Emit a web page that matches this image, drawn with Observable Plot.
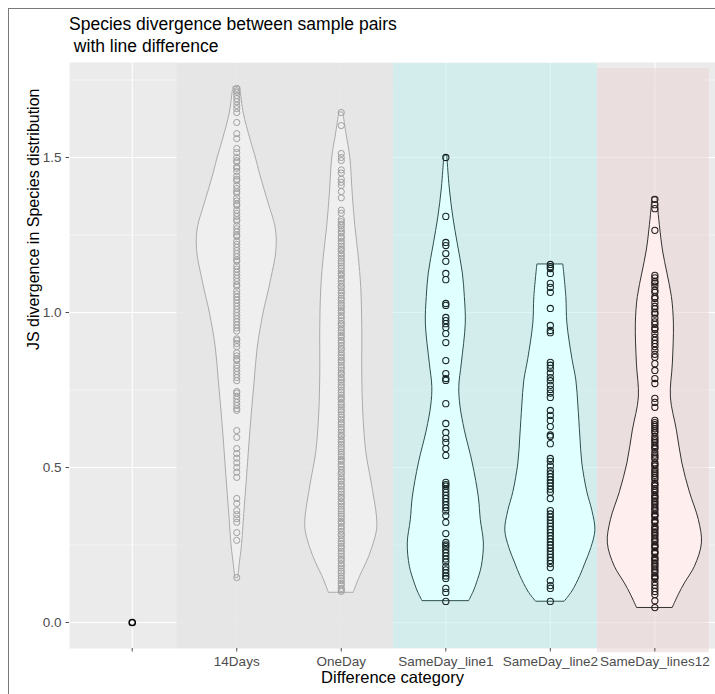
<!DOCTYPE html>
<html><head><meta charset="utf-8">
<script src="https://cdn.jsdelivr.net/npm/d3@7"></script>
<script src="https://cdn.jsdelivr.net/npm/@observablehq/plot@0.6"></script>
<style>
body{margin:0;background:#fff;font-family:"Liberation Sans",Arial,sans-serif;}
#wrap{position:relative;width:715px;height:694px;overflow:hidden;}
#border{position:absolute;left:8px;top:8px;width:720px;height:700px;border-left:1.5px solid #7a7a7a;border-top:1.5px solid #7a7a7a;}
#title{position:absolute;left:69px;top:13px;font-size:17.5px;line-height:22px;color:#000;white-space:pre;}
#chart{position:absolute;left:0;top:0;}
</style></head><body>
<div id="wrap"><div id="chart"></div><div id="border"></div><div id="title"></div></div>
<script>
// ---------- data ----------
const titleLines = ["Species divergence between sample pairs", " with line difference"];
const xTitle = "Difference category";
const yTitle = "JS divergence in Species distribution";
const categories = ["", "14Days", "OneDay", "SameDay_line1", "SameDay_line2", "SameDay_lines12"];
const majorY = [0, 0.5, 1.0, 1.5];
const minorY = [0.25, 0.75, 1.25, 1.75];

// shaded regions (x in category units, y in data units)
const regionX1 = [1.43, 3.5, 5.45];
const regionX2 = [3.5, 5.45, 6.52];
const regionY1 = [-0.084, -0.084, -0.097];
const regionY2 = [1.803, 1.803, 1.787];

// points per category
const ptsBlank = [0];
const pts14Days = [1.723,1.715,1.71,1.70,1.69,1.68,1.668,1.658,1.645,1.613,1.577,1.561,1.529,1.516,
 1.50,1.49,1.485,1.47,1.465,1.455,1.44,1.43,1.425,1.41,1.40,1.39,1.385,1.37,1.36,1.35,1.345,1.33,1.32,1.31,1.30,1.295,
 1.28,1.27,1.26,1.25,1.245,1.23,1.22,1.21,1.20,1.19,1.18,1.17,1.165,1.15,1.14,1.13,1.12,1.11,1.10,1.09,1.085,1.07,
 1.06,1.05,1.04,1.03,1.02,1.01,1.00,0.99,0.98,0.97,0.96,0.95,0.94,0.915,0.91,0.90,0.89,0.87,0.86,0.85,0.845,0.83,
 0.82,0.81,0.80,0.79,0.78,0.745,0.74,0.73,0.72,0.71,0.70,0.69,0.684,
 0.619,0.597,0.561,0.545,0.53,0.515,0.50,0.485,0.468,0.40,0.384,0.361,0.348,0.335,0.323,0.29,0.265,0.145];
const ptsOneDay = [1.645,1.603,1.513,1.50,1.49,1.46,1.45,1.43,1.42,1.41,1.39,1.37,1.33,1.32,
 1.30,1.293,1.285,1.28,1.27,1.262,1.256,1.245,1.24,1.23,1.222,1.214,1.205,1.2,1.19,1.183,1.175,1.166,1.16,1.15,1.142,
 1.134,1.125,1.12,1.11,1.103,1.094,1.085,1.08,1.07,1.063,1.055,1.046,1.04,1.03,1.022,1.015,1.006,1.0,0.99,0.983,0.974,
 0.965,0.96,0.95,0.942,0.935,0.926,0.92,0.91,0.903,0.894,0.885,0.88,0.87,0.862,0.855,0.846,0.84,0.83,0.822,0.814,0.805,
 0.8,0.79,0.783,0.775,0.766,0.76,0.75,0.742,0.734,0.725,0.72,0.71,0.703,0.695,0.686,0.68,0.67,0.662,0.655,0.646,0.64,
 0.63,0.622,0.614,0.605,0.6,0.59,0.583,0.575,0.566,0.56,0.55,0.542,0.535,0.526,0.52,0.51,0.503,0.494,0.485,0.48,0.47,
 0.462,0.455,0.446,0.44,0.43,0.422,0.414,0.405,0.4,0.39,0.383,0.375,0.366,0.36,0.35,0.342,0.335,0.326,0.32,0.31,0.303,
 0.294,0.285,0.28,0.27,0.262,0.255,0.246,0.24,0.23,0.222,0.214,0.205,0.2,0.19,0.183,0.175,0.166,0.16,0.15,0.142,0.135,
 0.126,0.12,0.11,0.105,0.1];
const ptsLine1 = [1.50,1.31,1.226,1.216,1.19,1.165,1.126,1.106,1.029,1.023,0.984,0.974,0.964,0.952,0.932,0.903,0.845,
 0.803,0.787,0.781,0.706,0.642,0.613,0.594,0.581,0.561,0.539,0.452,0.445,0.44,0.43,0.42,0.41,0.40,0.39,0.38,0.37,0.36,
 0.345,0.323,0.287,0.258,0.25,0.245,0.235,0.225,0.215,0.205,0.195,0.18,0.17,0.16,0.15,0.142,0.11,0.097,0.068];
const ptsLine2 = [1.155,1.148,1.142,1.126,1.094,1.081,1.065,1.013,0.958,0.942,0.935,0.839,0.83,0.82,0.805,0.79,0.78,
 0.765,0.752,0.74,0.726,0.684,0.668,0.652,0.632,0.605,0.60,0.577,0.529,0.52,0.505,0.49,0.48,0.47,0.46,0.45,0.44,0.43,
 0.42,0.40,0.361,0.35,0.34,0.33,0.32,0.31,0.30,0.29,0.28,0.27,0.26,0.25,0.24,0.23,0.22,0.21,0.20,0.19,0.177,0.135,
 0.119,0.11,0.068];
const ptsLines12 = [1.365,1.348,1.335,1.265,1.12,1.112,1.10,1.095,1.085,1.072,1.065,1.05,1.045,1.032,1.02,1.012,1.0,
 0.995,0.982,0.97,0.962,0.95,0.945,0.932,0.92,0.91,0.9,0.89,0.878,0.865,0.856,0.835,0.813,0.787,0.771,0.723,0.71,0.694,
 0.652,0.645,0.638,0.632,0.625,0.618,0.612,0.6,0.592,0.586,0.58,0.571,0.565,0.56,0.548,0.54,0.534,0.528,0.515,0.51,0.505,
 0.495,0.488,0.482,0.475,0.468,0.462,0.45,0.445,0.44,0.432,0.426,0.42,0.41,0.405,0.4,0.392,0.386,0.38,0.372,0.366,0.36,
 0.35,0.346,0.342,0.33,0.326,0.322,0.31,0.305,0.3,0.292,0.286,0.28,0.272,0.266,0.26,0.25,0.246,0.242,0.23,0.226,0.222,
 0.21,0.205,0.2,0.192,0.186,0.18,0.172,0.166,0.16,0.15,0.146,0.142,0.13,0.12,0.11,0.1,0.09,0.07,0.048];

// violin profiles: y value and half-width (in category units)
const vio14DaysY = [0.145,0.20,0.242,0.35,0.458,0.57,0.674,0.78,0.887,1.00,1.07,1.13,1.18,1.23,1.28,1.34,1.394,1.45,1.50,1.555,1.642,1.70,1.727];
const vio14DaysW = [0.014,0.033,0.048,0.072,0.096,0.12,0.144,0.172,0.201,0.258,0.306,0.344,0.373,0.383,0.368,0.316,0.268,0.22,0.182,0.134,0.067,0.043,0.033];
const vioOneDayY = [0.097,0.15,0.19,0.24,0.303,0.36,0.40,0.458,0.55,0.674,0.80,0.95,1.08,1.18,1.28,1.38,1.50,1.58,1.645];
const vioOneDayW = [0.12,0.182,0.239,0.297,0.344,0.335,0.316,0.287,0.239,0.211,0.201,0.201,0.191,0.167,0.134,0.11,0.086,0.048,0.019];
const vioLine1Y = [0.07,0.10,0.126,0.18,0.255,0.33,0.403,0.513,0.619,0.70,0.76,0.835,0.964,1.05,1.126,1.22,1.306,1.40,1.506];
const vioLine1W = [0.225,0.268,0.297,0.344,0.364,0.335,0.316,0.258,0.182,0.139,0.129,0.153,0.191,0.182,0.163,0.115,0.072,0.038,0.014];
const vioLine2Y = [0.068,0.10,0.15,0.19,0.24,0.297,0.36,0.42,0.513,0.60,0.70,0.78,0.85,0.964,1.05,1.155];
const vioLine2W = [0.139,0.211,0.287,0.335,0.392,0.431,0.402,0.354,0.306,0.287,0.268,0.249,0.211,0.163,0.153,0.124];
const vioLines12Y = [0.048,0.09,0.126,0.18,0.255,0.33,0.42,0.513,0.619,0.726,0.835,0.964,1.05,1.126,1.20,1.265,1.33,1.371];
const vioLines12W = [0.172,0.23,0.287,0.383,0.45,0.421,0.335,0.263,0.211,0.153,0.172,0.182,0.163,0.12,0.077,0.053,0.033,0.024];

// ---------- build ----------
document.getElementById("title").textContent = titleLines.join("\n");
const catPos = categories.map((c, i) => i + 1);
const regions = regionX1.map((x1, i) => ({x1, x2: regionX2[i], y1: regionY1[i], y2: regionY2[i], k: i}));
const regionFill = ["#E6E6E6", "#BFEFEF", "#EBD3D3"];
const regionOpacity = [0.9, 0.55, 0.55];

const groups = [
  {cat: "", pts: ptsBlank, vy: null, vw: null, style: "blank"},
  {cat: "14Days", pts: pts14Days, vy: vio14DaysY, vw: vio14DaysW, style: "gray"},
  {cat: "OneDay", pts: ptsOneDay, vy: vioOneDayY, vw: vioOneDayW, style: "gray"},
  {cat: "SameDay_line1", pts: ptsLine1, vy: vioLine1Y, vw: vioLine1W, style: "cyan"},
  {cat: "SameDay_line2", pts: ptsLine2, vy: vioLine2Y, vw: vioLine2W, style: "cyan"},
  {cat: "SameDay_lines12", pts: ptsLines12, vy: vioLines12Y, vw: vioLines12W, style: "pink"}
];
const styles = {
  blank: {pt: "#000000", ptw: 1.5},
  gray: {fill: "#EFEFEF", stroke: "#ABABAB", pt: "#A0A0A0", ptw: 1},
  cyan: {fill: "#E0FFFF", stroke: "#2F4F4F", pt: "#1A2626", ptw: 1.1},
  pink: {fill: "#FFEEEE", stroke: "#333333", pt: "#261E1E", ptw: 1.1}
};

const marks = [
  Plot.frame({fill: "#EBEBEB", stroke: "none"}),
  Plot.ruleY(minorY, {stroke: "white", strokeWidth: 0.55}),
  Plot.ruleY(majorY, {stroke: "white", strokeWidth: 1.1}),
  Plot.ruleX(catPos, {stroke: "white", strokeWidth: 1.1}),
  Plot.rect(regions, {x1: "x1", x2: "x2", y1: "y1", y2: "y2",
    fill: d => regionFill[d.k], fillOpacity: d => regionOpacity[d.k]})
];
groups.forEach((g, i) => {
  const pos = i + 1;
  const s = styles[g.style];
  if (g.vy) {
    const prof = g.vy.map((y, j) => ({y, w: g.vw[j]}));
    marks.push(Plot.areaX(prof, {y: "y", x1: d => pos - d.w, x2: d => pos + d.w,
      fill: s.fill, stroke: s.stroke, strokeWidth: 1, curve: "catmull-rom"}));
  }
});
groups.forEach((g, i) => {
  const pos = i + 1;
  const s = styles[g.style];
  marks.push(Plot.dot(g.pts, {x: () => pos, y: d => d, r: 3.1, stroke: s.pt, strokeWidth: s.ptw, fill: "none"}));
});
marks.push(
  Plot.axisY({ticks: majorY, tickFormat: d3.format(".1f"), tickSize: 3.5, tickPadding: 4.5,
    fontSize: 13.5, color: "#4D4D4D", label: null}),
  Plot.axisX({ticks: catPos, tickFormat: v => categories[v - 1], tickSize: 3.5, tickPadding: 4,
    fontSize: 13.5, color: "#4D4D4D", label: null}),
  Plot.text([xTitle], {text: d => d, frameAnchor: "bottom", dy: 34.5, fontSize: 16.5, fill: "#000"}),
  Plot.text([yTitle], {text: d => d, frameAnchor: "left", rotate: -90, dx: -36, dy: -5.5, fontSize: 16, fill: "#000"})
);

const chart = Plot.plot({
  width: 715, height: 694,
  marginLeft: 69, marginRight: 0, marginTop: 62, marginBottom: 46,
  x: {domain: [0.4, 6.58]},
  y: {domain: [-0.0839, 1.8065]},
  style: {fontFamily: "'Liberation Sans', Arial, sans-serif", background: "transparent", overflow: "visible"},
  marks
});
document.getElementById("chart").appendChild(chart);
</script>
</body></html>
